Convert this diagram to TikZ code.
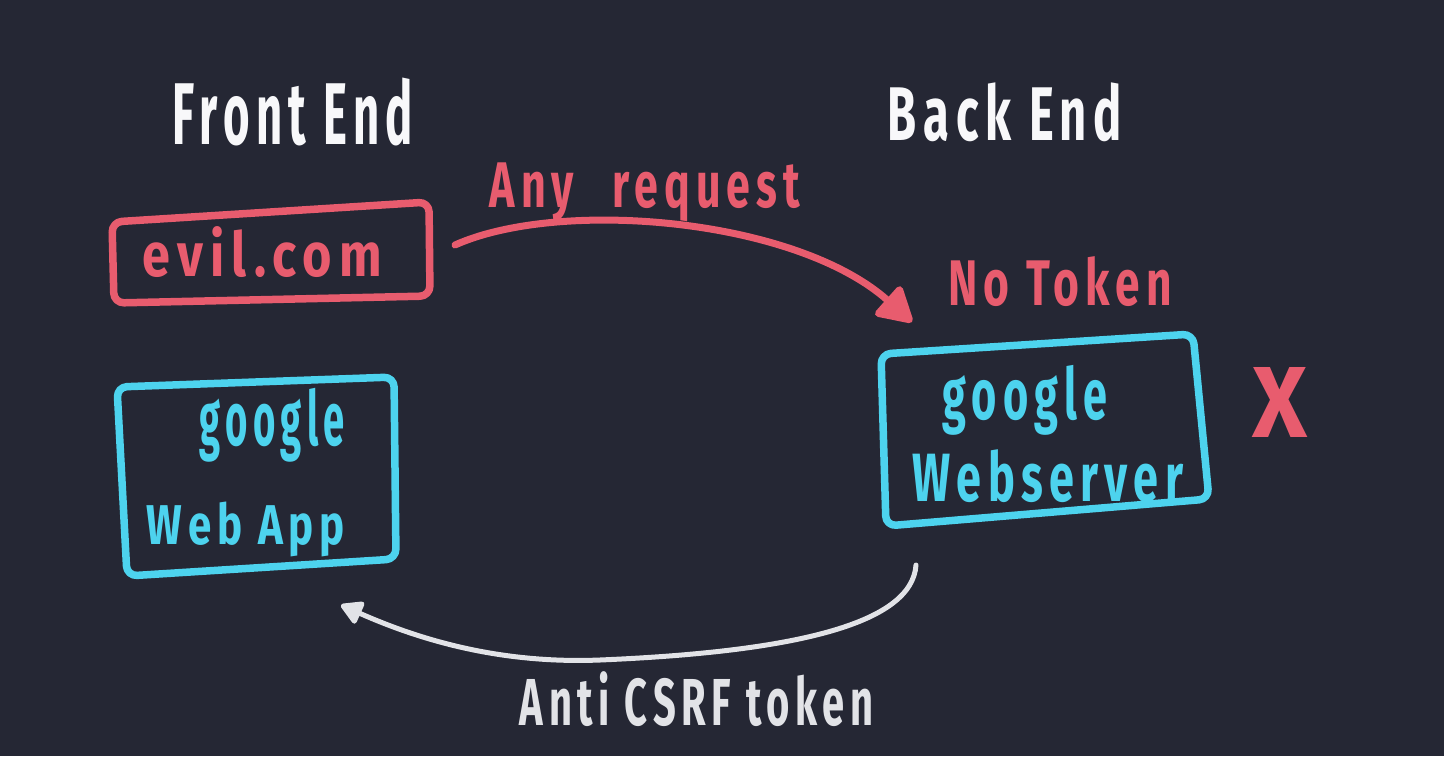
\documentclass[tikz,border=0pt]{standalone}
\usepackage{fontspec}
\setmainfont{Fira Sans}[LetterSpace=14]
\usepackage{graphicx}
\usetikzlibrary{arrows.meta}
\definecolor{bgc}{RGB}{37,39,52}
\definecolor{redc}{RGB}{232,92,110}
\definecolor{cyanc}{RGB}{77,211,238}
\definecolor{whitec}{RGB}{248,248,250}
\definecolor{greyc}{RGB}{226,227,231}
\newcommand{\fitt}[3]{\resizebox*{#1}{#2}{\bfseries #3}}
\tikzset{
  lbl/.style={inner sep=0pt, outer sep=0pt, anchor=center},
  frame/.style={line width=7.5pt, rounded corners=10pt, line join=round},
  reqarrow/.style={draw=redc, line width=7pt, line cap=round,
    -{Triangle[length=38pt, width=42pt, round]}, fill=none},
  tokarrow/.style={draw=greyc, line width=5pt, line cap=round,
    -{Triangle[length=24pt, width=26pt, round]}},
}
\begin{document}
\begin{tikzpicture}[x=1pt, y=-1pt]
\fill[bgc] (0,0) rectangle (1444,756);
\useasboundingbox (0,0) rectangle (1444,756);

% headings
\node[lbl, text=whitec] (front) at (293,112) {\fitt{240pt}{68pt}{Front End}};
\node[lbl, text=whitec] (back) at (1005,112.5) {\fitt{234pt}{59pt}{Back End}};

% evil.com box
\draw[frame, draw=redc] (112,222) -- (429,202) -- (430,296) -- (114,303) -- cycle;
\node[lbl, text=redc] (evil) at (262.5,252.5) {\fitt{239pt}{51pt}{evil.com}};

% google web app box
\draw[frame, draw=cyanc] (117,387) -- (394,377) -- (396,559) -- (127,576) -- cycle;
\node[lbl, text=cyanc] (appg) at (272.5,425) {\fitt{145pt}{74pt}{google}};
\node[lbl, text=cyanc] (app) at (246,529.5) {\fitt{198pt}{55pt}{Web App}};

% google webserver box
\draw[frame, draw=cyanc] (881,354) -- (1193,334) -- (1209,499) -- (886,526) -- cycle;
\node[lbl, text=cyanc] (srvg) at (1025,400) {\fitt{164pt}{70pt}{google}};
\node[lbl, text=cyanc] (srv) at (1048,476.5) {\fitt{270pt}{53pt}{Webserver}};

% labels
\node[lbl, text=redc] (anyreq) at (645,192.5) {\fitt{310pt}{59pt}{Any\hspace{0.9em}request}};
\node[lbl, text=redc] (notoken) at (1060,282) {\fitt{224pt}{50pt}{No Token}};
\node[lbl, text=redc] (cross) at (1280,402) {\fitt{55pt}{70pt}{X}};
\node[lbl, text=greyc] (anti) at (696.5,699.5) {\fitt{353pt}{55pt}{Anti CSRF token}};

% connector end points
\coordinate (reqStart) at (455,245);
\coordinate (reqEnd) at (912,322);
\coordinate (tokStart) at (916,565);
\coordinate (tokMid) at (600,660);
\coordinate (tokEnd) at (341,605);

\draw[reqarrow] (reqStart) .. controls (560,198) and (795,218) .. (reqEnd);
\draw[tokarrow] (tokStart) .. controls (912,625) and (790,652) .. (tokMid)
  .. controls (500,664) and (420,640) .. (tokEnd);
\end{tikzpicture}
\end{document}
